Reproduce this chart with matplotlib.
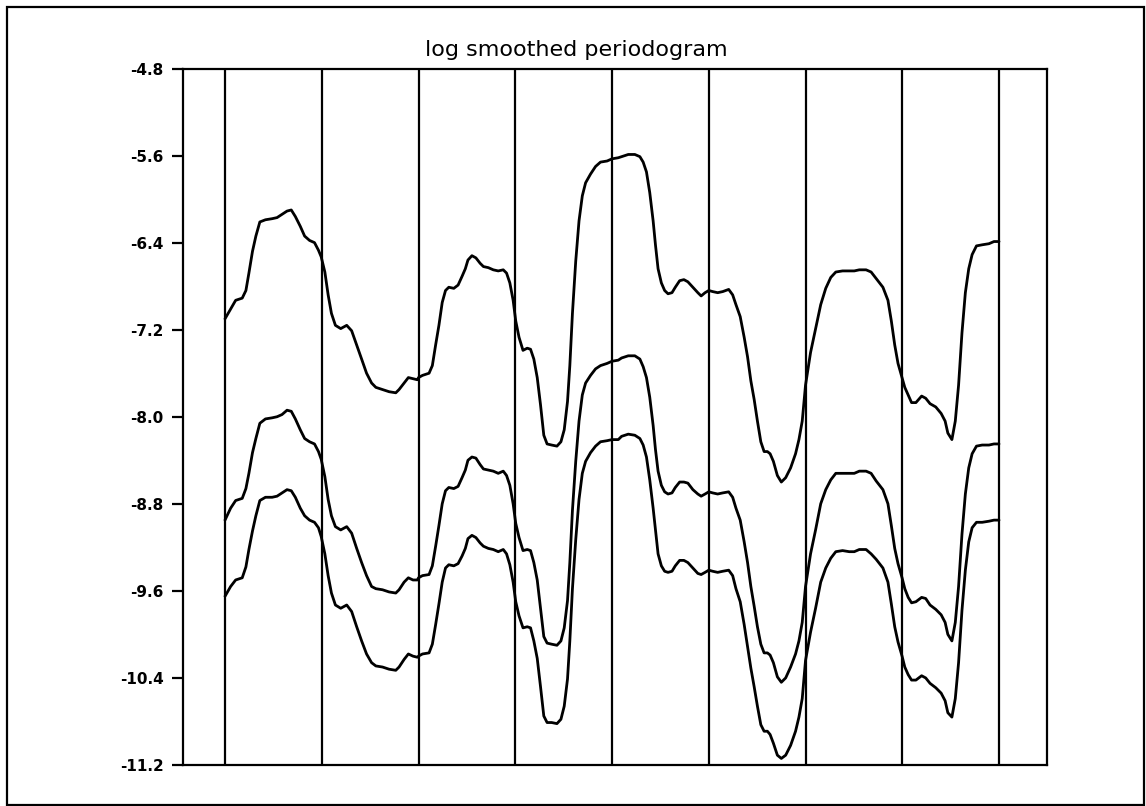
import matplotlib
matplotlib.use("Agg")
import matplotlib.pyplot as plt
from matplotlib.patches import Rectangle

# Frequency axis in band units: the vertical rules sit at 0, 1, ..., 8.
freq = [
    0.000, 0.058, 0.110, 0.178, 0.216, 0.247, 0.284, 0.319, 0.360, 0.418,
    0.487, 0.538, 0.589, 0.641, 0.685, 0.727, 0.778, 0.823, 0.874, 0.925,
    0.966, 0.994, 1.032, 1.066, 1.100, 1.141, 1.196, 1.258, 1.309, 1.361,
    1.412, 1.463, 1.515, 1.559, 1.628, 1.696, 1.765, 1.799, 1.851, 1.895,
    1.943, 1.988,
    2.000, 2.041, 2.109, 2.143, 2.177, 2.211, 2.245, 2.279, 2.313, 2.365,
    2.409, 2.450, 2.484, 2.511, 2.552, 2.593, 2.637, 2.671, 2.722, 2.773,
    2.824, 2.876, 2.910, 2.944, 2.978, 3.005, 3.039, 3.080, 3.124, 3.158,
    3.192, 3.227, 3.261, 3.295, 3.329, 3.376, 3.431, 3.472, 3.506, 3.540,
    3.564, 3.591, 3.625, 3.659, 3.693, 3.727, 3.778, 3.830, 3.881, 3.949,
    4.000,
    4.065, 4.099, 4.168, 4.236, 4.288, 4.322, 4.356, 4.390, 4.425, 4.449,
    4.476, 4.510, 4.544, 4.579, 4.620, 4.654, 4.699, 4.743, 4.784, 4.836,
    4.887, 4.921, 4.962, 5.000, 5.041, 5.092, 5.144, 5.206, 5.247, 5.281,
    5.325, 5.366, 5.401, 5.435, 5.469, 5.503, 5.538, 5.572, 5.606, 5.634,
    5.668, 5.709, 5.750, 5.795, 5.846, 5.897, 5.932, 5.966,
    6.000, 6.052, 6.104, 6.157, 6.209, 6.261, 6.313, 6.383, 6.452, 6.504,
    6.556, 6.626, 6.678, 6.730, 6.800, 6.852, 6.887, 6.922, 6.956, 6.998,
    7.026, 7.061, 7.096, 7.141, 7.200, 7.242, 7.287, 7.346, 7.402, 7.443,
    7.471, 7.513, 7.548, 7.582, 7.617, 7.652, 7.687, 7.722, 7.767, 7.826,
    7.896, 7.948, 8.000,
]

top = [
    -7.10, -7.01, -6.93, -6.91, -6.84, -6.68, -6.48, -6.34, -6.21, -6.19,
    -6.18, -6.17, -6.14, -6.11, -6.10, -6.16, -6.25, -6.34, -6.38, -6.40,
    -6.47, -6.53, -6.67, -6.88, -7.05, -7.16, -7.19, -7.16, -7.21, -7.34,
    -7.47, -7.60, -7.69, -7.73, -7.75, -7.77, -7.78, -7.75, -7.69, -7.64,
    -7.65, -7.66,
    -7.64, -7.62, -7.60, -7.53, -7.34, -7.16, -6.95, -6.84, -6.81, -6.82,
    -6.79, -6.71, -6.64, -6.56, -6.52, -6.54, -6.59, -6.62, -6.63, -6.65,
    -6.66, -6.65, -6.68, -6.77, -6.93, -7.12, -7.27, -7.39, -7.37, -7.38,
    -7.47, -7.64, -7.89, -8.17, -8.25, -8.26, -8.27, -8.23, -8.12, -7.86,
    -7.53, -7.05, -6.57, -6.20, -5.97, -5.85, -5.77, -5.70, -5.66, -5.65,
    -5.63,
    -5.62, -5.61, -5.59, -5.59, -5.61, -5.66, -5.75, -5.94, -6.20, -6.42,
    -6.64, -6.77, -6.84, -6.87, -6.86, -6.81, -6.75, -6.74, -6.76, -6.81,
    -6.86, -6.89, -6.86, -6.84, -6.85, -6.86, -6.85, -6.83, -6.88, -6.97,
    -7.08, -7.27, -7.45, -7.67, -7.84, -8.04, -8.23, -8.32, -8.32, -8.34,
    -8.41, -8.54, -8.60, -8.56, -8.47, -8.34, -8.21, -8.04,
    -7.71, -7.41, -7.19, -6.97, -6.82, -6.72, -6.67, -6.66, -6.66, -6.66,
    -6.65, -6.65, -6.67, -6.73, -6.81, -6.93, -7.12, -7.34, -7.51, -7.64,
    -7.73, -7.80, -7.87, -7.87, -7.81, -7.83, -7.88, -7.91, -7.97, -8.04,
    -8.15, -8.21, -8.04, -7.71, -7.23, -6.86, -6.64, -6.51, -6.43, -6.42,
    -6.41, -6.39, -6.39,
]

middle = [
    -8.95, -8.84, -8.77, -8.75, -8.66, -8.52, -8.33, -8.20, -8.06, -8.02,
    -8.01, -8.00, -7.98, -7.94, -7.95, -8.02, -8.12, -8.20, -8.23, -8.25,
    -8.32, -8.39, -8.55, -8.76, -8.91, -9.01, -9.04, -9.01, -9.07, -9.21,
    -9.34, -9.46, -9.56, -9.58, -9.59, -9.61, -9.62, -9.59, -9.52, -9.48,
    -9.50, -9.50,
    -9.48, -9.46, -9.45, -9.37, -9.19, -9.00, -8.80, -8.68, -8.65, -8.66,
    -8.64, -8.56, -8.49, -8.40, -8.37, -8.38, -8.44, -8.48, -8.49, -8.50,
    -8.52, -8.50, -8.54, -8.63, -8.80, -8.98, -9.11, -9.23, -9.22, -9.23,
    -9.34, -9.50, -9.76, -10.02, -10.08, -10.09, -10.10, -10.06, -9.94, -9.69,
    -9.34, -8.86, -8.41, -8.04, -7.80, -7.69, -7.62, -7.56, -7.53, -7.51,
    -7.49,
    -7.48, -7.46, -7.44, -7.44, -7.47, -7.54, -7.64, -7.82, -8.08, -8.30,
    -8.50, -8.63, -8.69, -8.71, -8.70, -8.65, -8.60, -8.60, -8.61, -8.67,
    -8.71, -8.73, -8.71, -8.69, -8.70, -8.71, -8.70, -8.69, -8.74, -8.84,
    -8.95, -9.15, -9.34, -9.56, -9.74, -9.93, -10.09, -10.17, -10.17, -10.19,
    -10.26, -10.39, -10.44, -10.40, -10.30, -10.18, -10.06, -9.89,
    -9.56, -9.26, -9.04, -8.80, -8.67, -8.58, -8.52, -8.52, -8.52, -8.52,
    -8.50, -8.50, -8.52, -8.59, -8.67, -8.80, -9.00, -9.21, -9.35, -9.48,
    -9.58, -9.66, -9.71, -9.70, -9.66, -9.67, -9.73, -9.77, -9.82, -9.89,
    -10.00, -10.06, -9.89, -9.56, -9.08, -8.71, -8.47, -8.34, -8.27, -8.26,
    -8.26, -8.25, -8.25,
]

bottom = [
    -9.65, -9.56, -9.50, -9.48, -9.38, -9.22, -9.05, -8.91, -8.77, -8.74,
    -8.74, -8.73, -8.70, -8.67, -8.68, -8.74, -8.84, -8.91, -8.95, -8.97,
    -9.02, -9.10, -9.26, -9.46, -9.62, -9.73, -9.76, -9.73, -9.79, -9.93,
    -10.06, -10.18, -10.26, -10.29, -10.30, -10.32, -10.33, -10.30, -10.23, -10.18,
    -10.20, -10.21,
    -10.20, -10.18, -10.17, -10.09, -9.91, -9.72, -9.52, -9.39, -9.36, -9.37,
    -9.35, -9.28, -9.21, -9.12, -9.09, -9.11, -9.16, -9.19, -9.21, -9.22,
    -9.24, -9.22, -9.26, -9.36, -9.52, -9.70, -9.83, -9.94, -9.93, -9.94,
    -10.06, -10.22, -10.48, -10.75, -10.81, -10.81, -10.82, -10.78, -10.66, -10.41,
    -10.06, -9.58, -9.13, -8.76, -8.52, -8.41, -8.33, -8.27, -8.23, -8.22,
    -8.21,
    -8.21, -8.18, -8.16, -8.17, -8.20, -8.26, -8.37, -8.58, -8.84, -9.04,
    -9.26, -9.37, -9.42, -9.43, -9.42, -9.37, -9.32, -9.32, -9.34, -9.39,
    -9.44, -9.45, -9.43, -9.41, -9.42, -9.43, -9.42, -9.41, -9.46, -9.58,
    -9.70, -9.91, -10.11, -10.31, -10.48, -10.66, -10.83, -10.89, -10.89, -10.92,
    -11.00, -11.11, -11.14, -11.11, -11.02, -10.89, -10.76, -10.59,
    -10.24, -9.98, -9.76, -9.52, -9.39, -9.30, -9.24, -9.23, -9.24, -9.24,
    -9.22, -9.22, -9.26, -9.31, -9.39, -9.52, -9.72, -9.93, -10.07, -10.20,
    -10.30, -10.37, -10.42, -10.42, -10.38, -10.40, -10.45, -10.49, -10.54, -10.61,
    -10.72, -10.76, -10.59, -10.26, -9.78, -9.41, -9.15, -9.02, -8.97, -8.97,
    -8.96, -8.95, -8.95,
]

band_edges = [0, 1, 2, 3, 4, 5, 6, 7, 8]
yticks = [-4.8, -5.6, -6.4, -7.2, -8.0, -8.8, -9.6, -10.4, -11.2]
ytick_labels = ["-4.8", "-5.6", "-6.4", "-7.2", "-8.0", "-8.8", "-9.6", "-10.4", "-11.2"]
title = "log smoothed periodogram"

fig = plt.figure(figsize=(11.46, 8.06), dpi=100)
ax = fig.add_axes([0.1597, 0.0509, 0.7535, 0.8641])

for edge in band_edges:
    ax.axvline(edge, color="black", lw=1.6, zorder=1)

for series in (top, middle, bottom):
    ax.plot(freq, series, color="black", lw=2.0,
            solid_joinstyle="round", solid_capstyle="round", zorder=2)

ax.set_xlim(-0.434, 8.491)
ax.set_ylim(-11.2, -4.8)
ax.set_xticks([])
ax.set_yticks(yticks)
ax.set_yticklabels(ytick_labels, fontsize=11, fontweight="bold")
ax.tick_params(axis="y", direction="out", length=8, width=1.6, pad=6)
for spine in ax.spines.values():
    spine.set_linewidth(1.6)

fig.text(0.5026, 0.9305, title, ha="center", va="baseline", fontsize=16)

frame = Rectangle((0.0061, 0.0015), 0.9921, 0.9898, transform=fig.transFigure,
                  fill=False, edgecolor="black", lw=1.6)
fig.patches.append(frame)

fig.savefig("out.png", dpi=100)
